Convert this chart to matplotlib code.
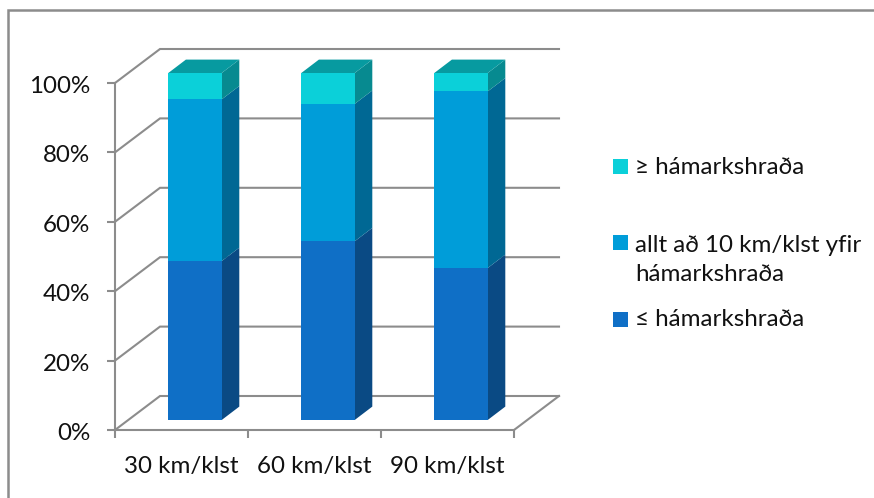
import matplotlib
matplotlib.use("Agg")
import matplotlib.pyplot as plt
from matplotlib.lines import Line2D
from matplotlib.patches import Rectangle
from matplotlib.transforms import ScaledTranslation

plt.rcParams["font.family"] = ["Lato", "DejaVu Sans"]

categories = ["30 km/klst", "60 km/klst", "90 km/klst"]
below_limit = [45.8, 51.5, 43.8]
up_to_10_over = [46.6, 39.6, 50.9]
over_limit = [7.6, 8.9, 5.3]
legend_labels = ["≥ hámarkshraða", "allt að 10 km/klst yfir\nhámarkshraða", "≤ hámarkshraða"]

W, H = 874, 498
GRAY = "#8c8c8c"
TEXT = "#111111"
FRONT = ["#0f6fc6", "#009dd9", "#0bd0d9"]
SIDE = ["#0a4a84", "#006894", "#078a90"]
TOP = "#079aa0"
FONT_SIZE = 17.4

# axes cover the front plane of the fake 3d box
PX_X = 133.0  # pixels per category
PX_Y = 3.47   # pixels per percent
WALL_DX, WALL_DY = 45 / PX_X, 34 / PX_Y
BAR_OFF_X, BAR_OFF_Y = 13.5 / PX_X, 10 / PX_Y
BAR_DX, BAR_DY = 17.6 / PX_X, 13.4 / PX_Y
BAR_W = 53.4 / PX_X

fig = plt.figure(figsize=(W / 100, H / 100), dpi=100)
ax = fig.add_axes([115 / W, (H - 430) / H, 399 / W, 347 / H])
ax.set_xlim(0, 3)
ax.set_ylim(0, 100)
ax.patch.set_visible(False)

yticks = [0, 20, 40, 60, 80, 100]
for t in yticks:
    ax.plot([0, WALL_DX, 3 + WALL_DX], [t, t + WALL_DY, t + WALL_DY], color=GRAY, lw=1.5,
            clip_on=False, zorder=1, solid_joinstyle="miter")
ax.plot([3, 3 + WALL_DX], [0, WALL_DY], color=GRAY, lw=1.5, clip_on=False, zorder=1)

series = [below_limit, up_to_10_over, over_limit]
bottoms = [BAR_OFF_Y] * 3
for s, values in enumerate(series):
    for i, v in enumerate(values):
        x0 = i + 0.5 + BAR_OFF_X - BAR_W / 2
        x1 = x0 + BAR_W
        y0 = bottoms[i]
        y1 = y0 + v
        ax.fill([x1, x1 + BAR_DX, x1 + BAR_DX, x1], [y0, y0 + BAR_DY, y1 + BAR_DY, y1],
                color=SIDE[s], lw=0, clip_on=False, zorder=3)
        if s == len(series) - 1:
            ax.fill([x0, x1, x1 + BAR_DX, x0 + BAR_DX], [y1, y1, y1 + BAR_DY, y1 + BAR_DY],
                    color=TOP, lw=0, clip_on=False, zorder=3)
    xs = [i + 0.5 + BAR_OFF_X for i in range(3)]
    bars = ax.bar(xs, values, width=BAR_W, bottom=bottoms, color=FRONT[s], lw=0, zorder=4)
    for b in bars:
        b.set_clip_on(False)
    bottoms = [b + v for b, v in zip(bottoms, values)]

for side in ["top", "right"]:
    ax.spines[side].set_visible(False)
for side in ["left", "bottom"]:
    ax.spines[side].set_color(GRAY)
    ax.spines[side].set_linewidth(1.5)
    ax.spines[side].set_zorder(2)

ax.set_yticks(yticks)
ax.set_yticklabels([f"{t}%" for t in yticks])
ax.tick_params(axis="y", length=6, width=1.5, color=GRAY, pad=12, labelsize=FONT_SIZE, labelcolor=TEXT)
nudge = ScaledTranslation(0, -1.5 / 100, fig.dpi_scale_trans)
for label in ax.get_yticklabels():
    label.set_transform(label.get_transform() + nudge)
ax.set_xticks([0, 1, 2, 3])
ax.set_xticklabels([])
ax.tick_params(axis="x", which="major", length=6, width=1.5, color=GRAY)
ax.set_xticks([0.5, 1.5, 2.5], minor=True)
ax.set_xticklabels(categories, minor=True)
ax.tick_params(axis="x", which="minor", length=0, pad=19, labelsize=FONT_SIZE, labelcolor=TEXT)


def fx(px):
    return px / W


def fy(px):
    return 1 - px / H


# outer chart frame, cut off by the image on the right and bottom
fig.add_artist(Line2D([fx(8), fx(8), fx(880)], [fy(510), fy(10), fy(10)], color=GRAY, lw=1.8,
                      solid_joinstyle="miter"))

# legend is spaced unevenly in the original, so placed by hand
swatch_tops = [159, 235, 312]
label_ys = [168, 260, 320]
for c, top, label, ly in zip(FRONT[::-1], swatch_tops, legend_labels, label_ys):
    fig.add_artist(Rectangle((fx(613), fy(top + 15)), 15 / W, 15 / H, color=c, lw=0,
                             transform=fig.transFigure))
    fig.text(fx(635), fy(ly), label, fontsize=FONT_SIZE, color=TEXT, va="center", ha="left", linespacing=1.42)

fig.savefig("out.png", dpi=100)
